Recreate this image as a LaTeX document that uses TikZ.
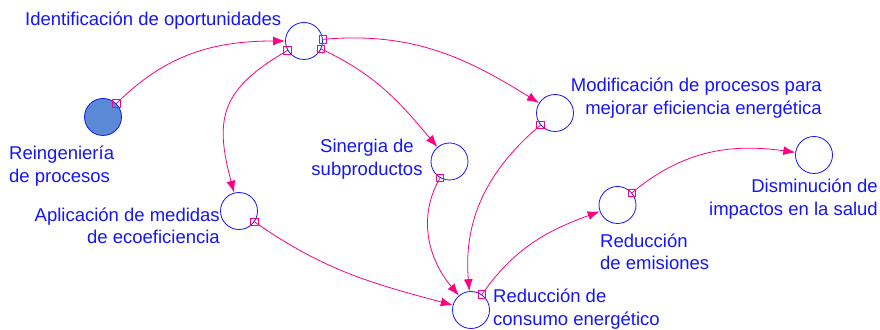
\documentclass[tikz,border=0pt]{standalone}
\usepackage{fontspec}
\setmainfont{Liberation Sans}
\usetikzlibrary{arrows.meta}

\definecolor{varblue}{RGB}{20,20,255}
\definecolor{linkpink}{RGB}{255,0,128}
\definecolor{levelfill}{RGB}{90,138,214}

\begin{document}
\begin{tikzpicture}[x=1pt, y=1pt, >={Latex[length=12pt,width=9pt]}, line cap=round, line join=round,
  var/.style={draw=varblue, circle, minimum size=37pt, inner sep=0pt, line width=0.8pt},
  lbl/.style={text=varblue, inner sep=0pt, font=\fontsize{18.5}{22.5}\selectfont},
  link/.style={->, draw=linkpink, line width=0.8pt},
  valve/.style={draw=linkpink, rectangle, minimum size=7.5pt, inner sep=0pt, line width=0.8pt}]

\useasboundingbox (0,0) rectangle (880,329);

\node[var] (ident) at (304,288) {};
\node[var, fill=levelfill] (reing) at (103,212) {};
\node[var] (sinerg) at (449.5,167.5) {};
\node[var] (modif) at (555,216) {};
\node[var] (aplic) at (239,118) {};
\node[var] (consumo) at (471,19) {};
\node[var] (emis) at (617.5,124) {};
\node[var] (dismin) at (814,174) {};

\node[lbl, anchor=west] (identL) at (25,308) {Identificación de oportunidades};
\node[lbl, anchor=west, align=left] (reingL) at (9,163) {Reingeniería\\de procesos};
\node[lbl, align=center] (sinergL) at (367,170) {Sinergia de\\subproductos};
\node[lbl, anchor=east, align=right] (modifL) at (822,231) {Modificación de procesos para\\mejorar eficiencia energética};
\node[lbl, anchor=east, align=right] (aplicL) at (220,103) {Aplicación de medidas\\de ecoeficiencia};
\node[lbl, anchor=west, align=left] (consumoL) at (493,20) {Reducción de\\consumo energético};
\node[lbl, anchor=west, align=left] (emisL) at (600,77) {Reducción\\de emisiones};
\node[lbl, anchor=east, align=right] (disminL) at (878,130) {Disminución de\\impactos en la salud};

\draw[link] (reing) to[out=45, in=180] node[valve, pos=0] {} (ident);
\draw[link] (ident) to[out=210, in=105, looseness=1.3] node[valve, pos=0] {} (aplic);
\draw[link] (ident) to[out=-25, in=130] node[valve, pos=0] {} (sinerg);
\draw[link] (ident) to[out=5, in=148] node[valve, pos=0] {} (modif);
\draw[link] (modif) to[out=220, in=95] node[valve, pos=0] {} (consumo);
\draw[link] (sinerg) to[out=240, in=130] node[valve, pos=0] {} (consumo);
\draw[link] (aplic) to[out=-35, in=165] node[valve, pos=0] {} (consumo);
\draw[link] (consumo) to[out=55, in=200] node[valve, pos=0] {} (emis);
\draw[link] (emis) to[out=40, in=172] node[valve, pos=0] {} (dismin);

\end{tikzpicture}
\end{document}
